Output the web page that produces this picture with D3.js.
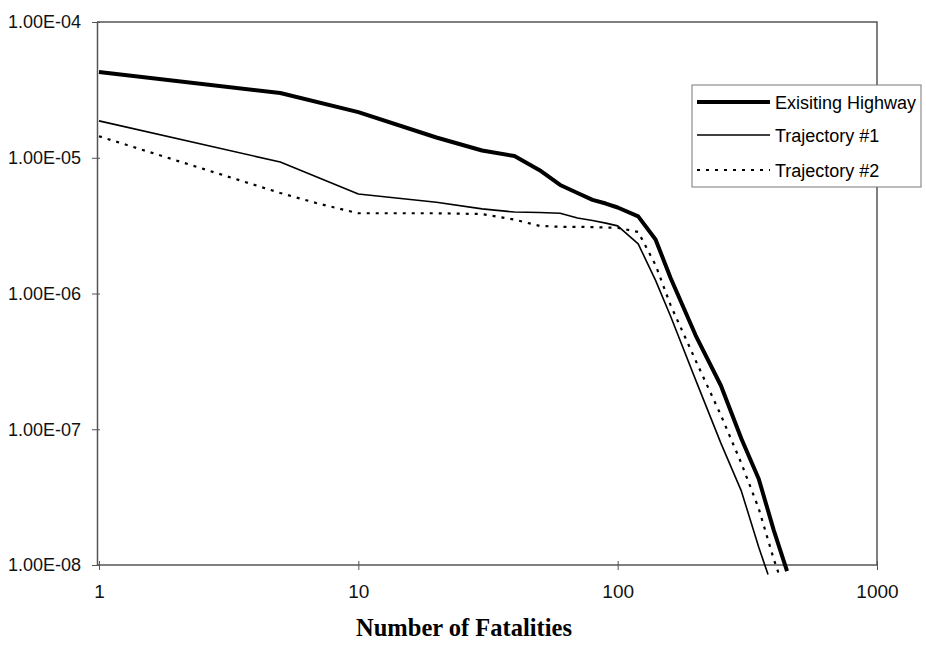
<!DOCTYPE html>
<html>
<head>
<meta charset="utf-8">
<script src="https://cdn.jsdelivr.net/npm/d3@7/dist/d3.min.js"></script>
<style>
  body { margin: 0; background: #fff; }
  svg { display: block; }
</style>
</head>
<body>
<svg width="926" height="652"></svg>
<script>
// Data (x = number of fatalities, y = frequency).
const highwayX = [1, 5, 10, 20, 30, 40, 50, 60, 70, 80, 90, 100, 120, 140, 160, 200, 250, 300, 350, 400, 450];
const highwayY = [4.28e-5, 3.0e-5, 2.17e-5, 1.41e-5, 1.13e-5, 1.03e-5, 8.1e-6, 6.3e-6, 5.5e-6, 4.9e-6, 4.6e-6, 4.3e-6,
                  3.7e-6, 2.5e-6, 1.3e-6, 4.9e-7, 2.1e-7, 8.5e-8, 4.3e-8, 1.8e-8, 9.0e-9];

const traj1X = [1, 5, 10, 20, 30, 40, 50, 60, 70, 80, 90, 100, 120, 140, 160, 200, 250, 300, 350, 380];
const traj1Y = [1.87e-5, 9.3e-6, 5.4e-6, 4.7e-6, 4.2e-6, 3.98e-6, 3.95e-6, 3.9e-6, 3.6e-6, 3.45e-6, 3.3e-6, 3.15e-6,
                2.32e-6, 1.25e-6, 6.8e-7, 2.3e-7, 7.9e-8, 3.5e-8, 1.35e-8, 8.5e-9];

const traj2X = [1, 5, 7, 10, 20, 30, 40, 50, 60, 70, 80, 90, 100, 120, 140, 160, 200, 250, 300, 350, 400, 420];
const traj2Y = [1.44e-5, 5.5e-6, 4.6e-6, 3.9e-6, 3.9e-6, 3.85e-6, 3.5e-6, 3.15e-6, 3.1e-6, 3.1e-6, 3.08e-6, 3.06e-6, 3.05e-6,
                2.84e-6, 1.62e-6, 8.2e-7, 3.2e-7, 1.27e-7, 5.6e-8, 2.6e-8, 1.1e-8, 8.4e-9];

const xTicks = [1, 10, 100, 1000];
const yTicks = [1e-4, 1e-5, 1e-6, 1e-7, 1e-8];
const xTitle = "Number of Fatalities";

const seriesNames = ["Exisiting Highway", "Trajectory #1", "Trajectory #2"];

// SVG plotting related variables.
const svg = d3.select("svg");
const plot = { left: 97, right: 877, top: 22, bottom: 565 };

// Scales
const xScale = d3.scaleLog().domain([1, 1000]).range([99, plot.right]);
const yScale = d3.scaleLog().domain([1e-8, 1e-4]).range([plot.bottom, plot.top]);

const frameColor = "#555";
const tickFont = "'Liberation Sans', Arial, sans-serif";

// Clip so the lines stop just below the x axis like the original
svg.append("defs")
   .append("clipPath")
   .attr("id", "plot-clip")
   .append("rect")
   .attr("x", plot.left)
   .attr("y", plot.top)
   .attr("width", plot.right - plot.left)
   .attr("height", plot.bottom - plot.top + 10);

// Plot frame (top and right sides)
svg.append("path")
   .attr("d", `M${plot.left},${plot.top}H${plot.right}V${plot.bottom}`)
   .attr("fill", "none")
   .attr("stroke", frameColor)
   .attr("stroke-width", 1.5);

// X Axis
const xAxis = svg.append("g")
   .attr("class", "x-axis")
   .attr("transform", `translate(0, ${plot.bottom})`)
   .call(d3.axisBottom(xScale).tickValues(xTicks).tickFormat(d3.format("d")).tickSizeInner(0).tickSizeOuter(0).tickPadding(20));
xAxis.select(".domain").attr("d", `M${plot.left},0H${plot.right}`);
xAxis.selectAll(".tick line").attr("y1", -4).attr("y2", 5).attr("stroke", frameColor);
xAxis.selectAll("text")
     .style("font-size", "19px")
     .style("font-family", tickFont)
     .style("fill", "#111");

// Y Axis
const yAxis = svg.append("g")
   .attr("class", "y-axis")
   .attr("transform", `translate(${plot.left}, 0)`)
   .call(d3.axisLeft(yScale).tickValues(yTicks).tickFormat(d => d.toExponential(2).toUpperCase().replace(/E([+-])(\d)$/, "E$10$2")).tickSizeInner(0).tickSizeOuter(0).tickPadding(16));
yAxis.selectAll(".tick line").attr("x1", -5).attr("x2", 3).attr("stroke", frameColor);
yAxis.selectAll("text")
     .style("font-size", "18px")
     .style("font-family", tickFont)
     .style("fill", "#111");

svg.selectAll(".domain").attr("stroke", frameColor).attr("stroke-width", 1.5);

// X axis title
svg.append("text")
   .attr("x", 464)
   .attr("y", 636)
   .attr("text-anchor", "middle")
   .style("font-family", "'Liberation Serif', 'Times New Roman', serif")
   .style("font-weight", "bold")
   .style("font-size", "24.5px")
   .text(xTitle);

// Lines
const line = d3.line().x(d => xScale(d[0])).y(d => yScale(d[1]));
const seriesStyles = [
    { width: 4, dash: null },
    { width: 1.6, dash: null },
    { width: 2.2, dash: "3,6" }
];
const seriesData = [d3.zip(highwayX, highwayY), d3.zip(traj1X, traj1Y), d3.zip(traj2X, traj2Y)];

seriesData.forEach((pts, i) => {
    svg.append("path")
       .datum(pts)
       .attr("d", line)
       .attr("fill", "none")
       .attr("stroke", "#000")
       .attr("stroke-width", seriesStyles[i].width)
       .attr("stroke-dasharray", seriesStyles[i].dash)
       .attr("stroke-linejoin", "round")
       .attr("clip-path", "url(#plot-clip)");
});

// Legend
const legend = svg.append("g").attr("transform", "translate(692, 85)");
legend.append("rect")
      .attr("width", 229)
      .attr("height", 102)
      .attr("fill", "#fff")
      .attr("stroke", "#777")
      .attr("stroke-width", 1);

const legendGroups = legend.selectAll(".legend-item")
                           .data(seriesNames)
                           .enter()
                           .append("g")
                           .attr("class", "legend-item")
                           .attr("transform", (d, i) => `translate(0, ${[17, 50, 85][i]})`);

legendGroups.append("line")
            .attr("x1", 5)
            .attr("x2", 78)
            .attr("stroke", "#000")
            .attr("stroke-width", (d, i) => seriesStyles[i].width)
            .attr("stroke-dasharray", (d, i) => seriesStyles[i].dash);

legendGroups.append("text")
            .attr("x", 83)
            .attr("y", 6.5)
            .style("font-size", "18px")
            .style("font-family", tickFont)
            .text(d => d);
</script>
</body>
</html>
